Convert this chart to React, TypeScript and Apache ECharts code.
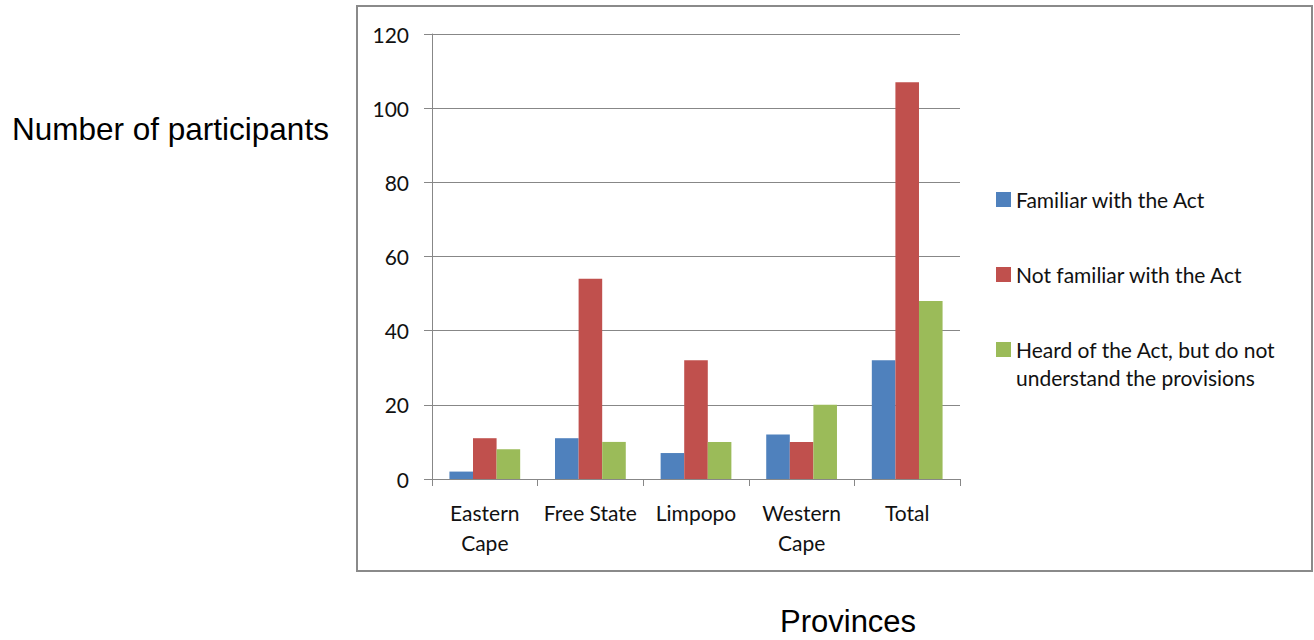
import React, { useEffect, useRef } from "react";
import * as echarts from "echarts";

// Participants per province, by awareness of the Act
const provinces = ["Eastern\nCape", "Free State", "Limpopo", "Western\nCape", "Total"];
const seriesNames = [
  "Familiar with the Act",
  "Not familiar with the Act",
  "Heard of the Act, but do not\nunderstand the provisions",
];
const familiar = [2, 11, 7, 12, 32];
const notFamiliar = [11, 54, 32, 10, 107];
const heardNotUnderstood = [8, 10, 10, 20, 48];
const yTicks = { min: 0, max: 120, interval: 20 };

const colors = ["#4F81BD", "#C0504D", "#9BBB59"];
const chartFont = "Lato, 'Open Sans', sans-serif";
const titleFont = "'Liberation Sans', Arial, sans-serif";
const grey = "#878787";

export default function App() {
  const ref = useRef<HTMLDivElement>(null);

  useEffect(() => {
    if (!ref.current) return;
    const chart = echarts.init(ref.current, null, { renderer: "svg" });
    const values = [familiar, notFamiliar, heardNotUnderstood];

    const legendBase = {
      orient: "vertical" as const,
      left: 996,
      padding: 0,
      itemGap: 0,
      itemWidth: 15,
      itemHeight: 15,
      icon: "rect",
      selectedMode: false,
      textStyle: { fontFamily: chartFont, fontSize: 21, color: "#111", lineHeight: 28 },
    };

    chart.setOption({
      animation: false,
      backgroundColor: "#fff",
      grid: { left: 432, right: 354, top: 34, bottom: 161, containLabel: false },
      legend: [
        { ...legendBase, top: 185.5, data: [seriesNames[0]] },
        { ...legendBase, top: 260.5, data: [seriesNames[1]] },
        {
          ...legendBase,
          top: 307.5,
          data: [seriesNames[2]],
          // blank leading line keeps the square level with the first line of the wrapped label
          formatter: (name: string) => "\n" + name,
        },
      ],
      xAxis: {
        type: "category",
        data: provinces,
        boundaryGap: true,
        axisLine: { show: true, lineStyle: { color: grey, width: 1 } },
        axisTick: { show: true, length: 7, lineStyle: { color: grey } },
        axisLabel: {
          margin: 18,
          fontFamily: chartFont,
          fontSize: 21,
          color: "#111",
          lineHeight: 30,
          interval: 0,
        },
        splitLine: { show: false },
      },
      yAxis: {
        type: "value",
        min: yTicks.min,
        max: yTicks.max,
        interval: yTicks.interval,
        axisLine: { show: true, lineStyle: { color: grey, width: 1 } },
        axisTick: { show: true, length: 8, inside: false, lineStyle: { color: grey } },
        axisLabel: { margin: 23, fontFamily: chartFont, fontSize: 21, color: "#111" },
        splitLine: { show: true, lineStyle: { color: grey, width: 1 } },
      },
      series: seriesNames.map((name, i) => ({
        name,
        type: "bar",
        data: values[i],
        barGap: "0%",
        barCategoryGap: "33%",
        itemStyle: { color: colors[i] },
      })),
      graphic: [
        {
          type: "rect",
          shape: { x: 357, y: 6, width: 955, height: 565 },
          style: { fill: "none", stroke: "#8a8a8a", lineWidth: 2 },
          silent: true,
          z: -1,
        },
        {
          type: "text",
          left: 12,
          top: 113,
          style: {
            text: "Number of participants",
            font: `31.5px ${titleFont}`,
            fill: "#000",
          },
        },
        {
          type: "text",
          left: 780,
          top: 606,
          style: {
            text: "Provinces",
            font: `31px ${titleFont}`,
            fill: "#000",
          },
        },
      ],
    });

    return () => chart.dispose();
  }, []);

  return (
    <div
      ref={ref}
      style={{ position: "fixed", left: 0, top: 0, width: 1314, height: 640, background: "#fff" }}
    />
  );
}
